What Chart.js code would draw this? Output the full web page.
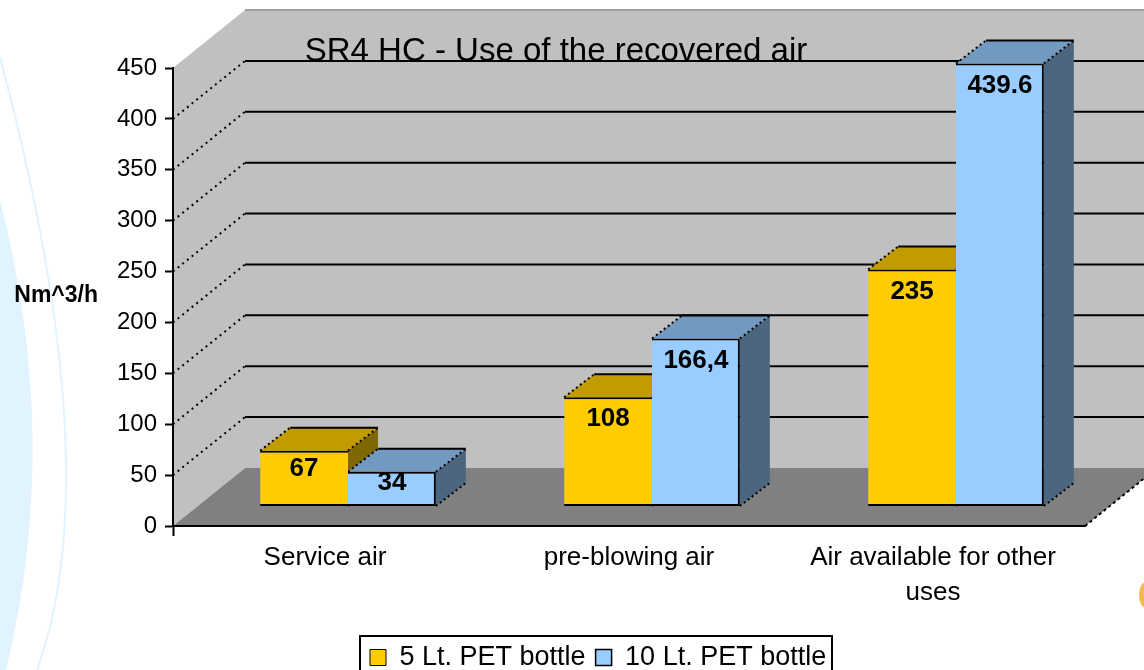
<!DOCTYPE html>
<html>
<head>
<meta charset="utf-8">
<title>SR4 HC - Use of the recovered air</title>
<script src="https://cdn.jsdelivr.net/npm/chart.js@4"></script>
<style>
  html, body { margin: 0; padding: 0; background: #fff; overflow: hidden; }
  #wrap { width: 1144px; height: 670px; }
  canvas { filter: blur(0.6px); }
</style>
</head>
<body>
<div id="wrap"><canvas id="grafico"></canvas></div>
<script>
// data
const chartTitle = 'SR4 HC - Use of the recovered air';
const axisLabel = 'Nm^3/h';
const categories = ['Service air', 'pre-blowing air', ['Air available for other', 'uses']];
const serieNames = ['5 Lt. PET bottle', '10 Lt. PET bottle'];
// bar heights as drawn in the picture. the first yellow bar is printed "67" but only reaches about 55
const bottle5 = [55, 108, 235];
const bottle10 = [34, 166.4, 439.6];
// labels as printed on the bars
const bottle5Labels = ['67', '108', '235'];
const bottle10Labels = ['34', '166,4', '439.6'];
const yTicks = [0, 50, 100, 150, 200, 250, 300, 350, 400, 450];

// 3d look
const FONT = '"Liberation Sans", Arial, sans-serif';
const WALL = { dx: 72, dy: -58 };
const BAR_SHIFT = { dx: 23, dy: -20 };
const BAR_DEPTH = { dx: 30, dy: -23 };
const faces = [
  { top: '#C09C00', side: '#806800' },
  { top: '#7299C0', side: '#4D6680' }
];
const barLabels = [bottle5Labels, bottle10Labels];

function poly(ctx, pts, fill) {
  ctx.beginPath();
  pts.forEach((p, i) => i ? ctx.lineTo(p[0], p[1]) : ctx.moveTo(p[0], p[1]));
  ctx.closePath();
  ctx.fillStyle = fill;
  ctx.fill();
}

function line(ctx, x1, y1, x2, y2, width, dash) {
  ctx.beginPath();
  ctx.setLineDash(dash || []);
  ctx.lineWidth = width;
  ctx.strokeStyle = '#000';
  ctx.moveTo(x1, y1);
  ctx.lineTo(x2, y2);
  ctx.stroke();
  ctx.setLineDash([]);
}

// page decoration behind the chart
function drawDecor(ctx) {
  ctx.fillStyle = '#E1F3FF';
  ctx.beginPath();
  ctx.moveTo(0, 200);
  ctx.quadraticCurveTo(62, 440, 6, 670);
  ctx.lineTo(0, 670);
  ctx.closePath();
  ctx.fill();
  ctx.strokeStyle = '#E1F3FF';
  ctx.lineWidth = 2;
  ctx.beginPath();
  ctx.moveTo(0, 57);
  ctx.quadraticCurveTo(110, 470, 37, 670);
  ctx.stroke();
  ctx.fillStyle = '#F5B84C';
  ctx.beginPath();
  ctx.ellipse(1146, 595, 7, 13, 0, 0, Math.PI * 2);
  ctx.fill();
}

const chart3d = {
  id: 'chart3d',
  beforeDraw(chart) {
    const { ctx, chartArea: a, scales } = chart;
    ctx.save();
    drawDecor(ctx);

    // walls and floor
    poly(ctx, [[a.left, a.top], [a.left + WALL.dx, a.top + WALL.dy], [a.right + WALL.dx, a.top + WALL.dy],
      [a.right + WALL.dx, a.bottom + WALL.dy], [a.left + WALL.dx, a.bottom + WALL.dy], [a.left, a.bottom]], '#C0C0C0');
    poly(ctx, [[a.left, a.bottom], [a.left + WALL.dx, a.bottom + WALL.dy],
      [a.right + WALL.dx, a.bottom + WALL.dy], [a.right, a.bottom]], '#808080');
    ctx.fillStyle = '#A0A0A0';
    ctx.fillRect(a.left + WALL.dx, a.top + WALL.dy - 1, a.right - a.left, 2);

    // grid lines, dotted on the side wall
    yTicks.forEach(v => {
      if (v === 0 || v === 450) return;
      const y = scales.y.getPixelForValue(v);
      line(ctx, a.left, y, a.left + WALL.dx, y + WALL.dy, 2, [2, 4]);
      line(ctx, a.left + WALL.dx, y + WALL.dy, a.right + WALL.dx, y + WALL.dy, 2);
    });
    line(ctx, a.right, a.bottom, a.right + WALL.dx, a.bottom + WALL.dy, 2, [3, 3]);
    ctx.restore();

    // title and legend sit off centre in the picture
    chart.titleBlock.left = -16;
    chart.titleBlock.right = 1128;
    chart.legend.left = 360;
    chart.legend.right = 1100; // wide enough that both items stay on one line
    chart.legend.top = 634;
  },
  beforeDatasetsDraw(chart) {
    const { ctx } = chart;
    ctx.save();
    ctx.translate(BAR_SHIFT.dx, BAR_SHIFT.dy);
    const d = BAR_DEPTH;
    chart.data.datasets.forEach((ds, i) => {
      chart.getDatasetMeta(i).data.forEach(bar => {
        const l = bar.x - bar.width / 2;
        const r = bar.x + bar.width / 2;
        poly(ctx, [[r, bar.y], [r + d.dx, bar.y + d.dy], [r + d.dx, bar.base + d.dy], [r, bar.base]], faces[i].side);
        poly(ctx, [[l, bar.y], [l + d.dx, bar.y + d.dy], [r + d.dx, bar.y + d.dy], [r, bar.y]], faces[i].top);
        line(ctx, l + d.dx, bar.y + d.dy, r + d.dx, bar.y + d.dy, 2);
        line(ctx, l, bar.y, l + d.dx, bar.y + d.dy, 2, [2, 3]);
        line(ctx, r, bar.y, r + d.dx, bar.y + d.dy, 2, [2, 3]);
        line(ctx, r, bar.base, r + d.dx, bar.base + d.dy, 2, [2, 3]);
      });
    });
  },
  afterDatasetsDraw(chart) {
    const { ctx } = chart;
    // value labels, still inside the shifted bars
    ctx.font = 'bold 26px ' + FONT;
    ctx.fillStyle = '#000';
    ctx.textAlign = 'center';
    ctx.textBaseline = 'middle';
    chart.data.datasets.forEach((ds, i) => {
      chart.getDatasetMeta(i).data.forEach((bar, j) => {
        const h = bar.base - bar.y;
        ctx.fillText(barLabels[i][j], bar.x, bar.y + Math.min(22, h / 3));
      });
    });
    ctx.restore();
  },
  afterDraw(chart) {
    const { ctx } = chart;
    ctx.save();
    // horizontal axis name
    ctx.font = 'bold 23px ' + FONT;
    ctx.fillStyle = '#000';
    ctx.textAlign = 'right';
    ctx.textBaseline = 'middle';
    ctx.fillText(axisLabel, 98, 296);
    // legend frame
    ctx.strokeStyle = '#000';
    ctx.lineWidth = 2;
    ctx.strokeRect(360, 636, 472, 50);
    ctx.restore();
  }
};

new Chart(document.getElementById('grafico').getContext('2d'), {
  type: 'bar',
  plugins: [chart3d],
  data: {
    labels: categories,
    datasets: [
      {
        label: serieNames[0],
        data: bottle5,
        yAxisID: 'yBar',
        backgroundColor: '#FFCC00',
        borderColor: '#000',
        borderWidth: { top: 2, bottom: 2, left: 0, right: 0 },
        borderSkipped: false,
        clip: false
      },
      {
        label: serieNames[1],
        data: bottle10,
        yAxisID: 'yBar',
        backgroundColor: '#99CCFF',
        borderColor: '#000',
        borderWidth: { top: 2, bottom: 2, left: 0, right: 2 },
        borderSkipped: false,
        clip: false
      }
    ]
  },
  options: {
    responsive: true,
    maintainAspectRatio: false,
    animation: false,
    layout: { padding: { right: 59 } },
    categoryPercentage: 0.578,
    barPercentage: 1,
    plugins: {
      tooltip: { enabled: false },
      title: {
        display: true,
        text: chartTitle,
        color: '#000',
        font: { family: FONT, size: 33, weight: 'normal', lineHeight: 1 },
        padding: { top: 35, bottom: 0 }
      },
      legend: {
        display: true,
        position: 'bottom',
        align: 'start',
        labels: {
          color: '#000',
          font: { family: FONT, size: 27 },
          boxWidth: 16,
          boxHeight: 16,
          padding: 10
        }
      }
    },
    scales: {
      x: {
        afterFit(s) { s.height = 97; },
        border: { color: '#000', width: 2 },
        grid: {
          drawOnChartArea: false,
          tickLength: 10,
          tickWidth: 2,
          tickColor: c => (c.index === 0 || c.index === categories.length) ? '#000' : 'transparent'
        },
        ticks: {
          color: '#000',
          padding: 4,
          maxRotation: 0,
          font: { family: FONT, size: 26, lineHeight: 1.35 }
        }
      },
      y: {
        min: 0,
        max: 450,
        afterFit(s) { s.width = 173; },
        afterBuildTicks(s) { s.ticks = yTicks.map(v => ({ value: v })); },
        border: { color: '#000', width: 2 },
        grid: { drawOnChartArea: false, tickLength: 8, tickWidth: 2, tickColor: '#000' },
        ticks: {
          color: '#000',
          padding: 8,
          font: { family: FONT, size: 24 }
        }
      },
      // bars in the picture run slightly flatter than the front axis
      yBar: { display: false, min: 0, max: 455 }
    }
  }
});
</script>
</body>
</html>
